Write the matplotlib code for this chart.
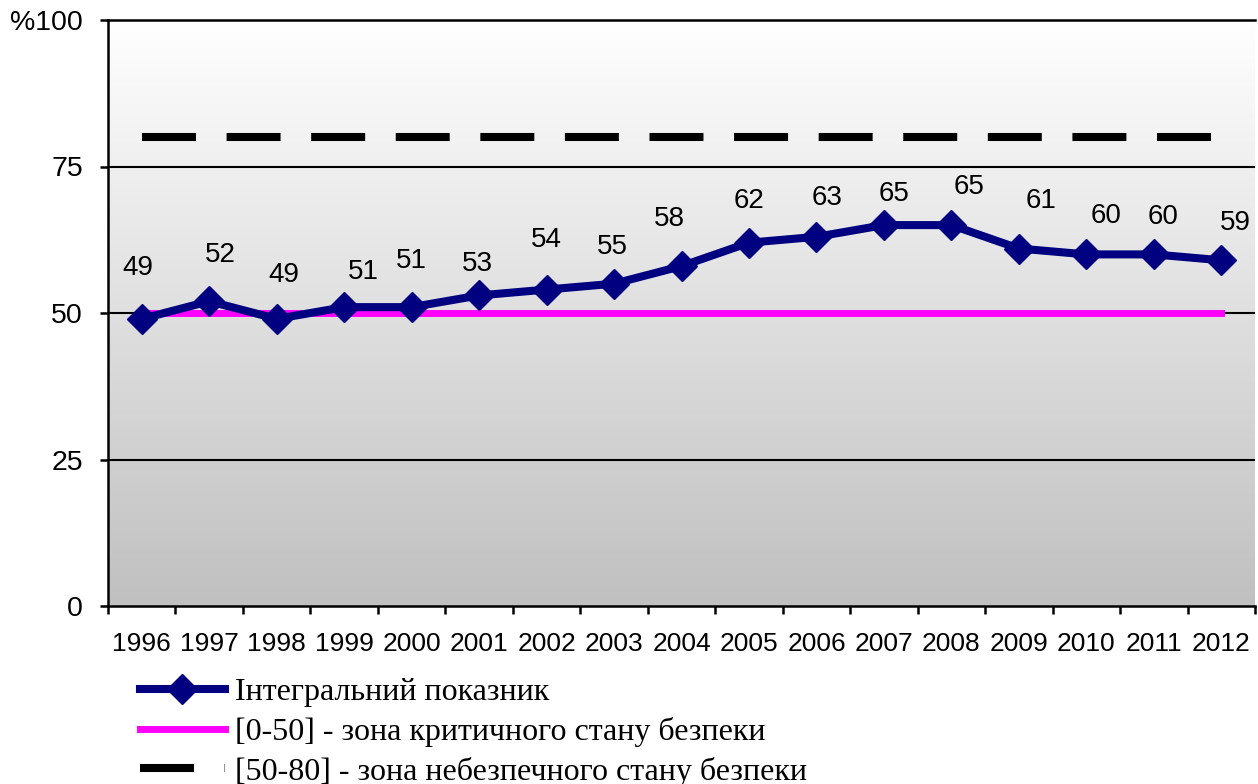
import numpy as np
import matplotlib
matplotlib.use("Agg")
import matplotlib.pyplot as plt
from matplotlib.colors import LinearSegmentedColormap

years = ["1996", "1997", "1998", "1999", "2000", "2001", "2002", "2003", "2004",
         "2005", "2006", "2007", "2008", "2009", "2010", "2011", "2012"]
integral = [49, 52, 49, 51, 51, 53, 54, 55, 58, 62, 63, 65, 65, 61, 60, 60, 59]
critical = [50] * 17
dangerous = [80] * 17
y_ticks = [0, 25, 50, 75, 100]
y_tick_labels = ["0", "25", "50", "75", "%100"]
legend_labels = ["Інтегральний показник",
                 "[0-50] - зона критичного стану безпеки",
                 "[50-80] - зона небезпечного стану безпеки"]

# label offsets (pixels) relative to point
label_dx = [-4, 11, 7, 19, 0, -2, 0, -2, -12, 0, 11, 10, 18, 22, 20, 9, 14]
label_dy = [-51, -46, -44, -35, -46, -31, -50, -37, -47, -42, -39, -31, -38, -48, -38, -37, -37]

W, H = 1258, 784
fig = plt.figure(figsize=(W / 100, H / 100), dpi=100)
ax = fig.add_axes([108 / W, 1 - 606 / H, (1255 - 108) / W, (606 - 20) / H])

x = np.arange(len(years))
ax.set_xlim(-0.5, len(years) - 0.5)

cmap = LinearSegmentedColormap.from_list("g", ["#ffffff", "#c0c0c0"])
grad = np.linspace(1, 0, 256).reshape(-1, 1)
ax.imshow(grad, extent=[-0.5, len(years) - 0.5, 0, 100], aspect="auto",
          cmap=cmap, zorder=0, origin="lower", vmin=0, vmax=1)
ax.set_ylim(0, 100)

for v in [25, 50, 75]:
    ax.axhline(v, color="black", lw=1.5, zorder=1)

l_dang, = ax.plot(x, dangerous, color="black", lw=5.8, zorder=2,
                  dashes=(6.7, 3.8), solid_capstyle="butt", dash_capstyle="butt")
l_crit, = ax.plot(x, critical, color="#ff00ff", lw=5, zorder=3)
l_int, = ax.plot(x, integral, color="#000080", lw=5.8, marker="D", ms=15,
                 zorder=4)

for xi, v, dx, dy in zip(x, integral, label_dx, label_dy):
    ax.annotate(str(v), (xi, v), xytext=(dx * 0.72, -dy * 0.72),
                textcoords="offset points", ha="center", va="center",
                fontsize=20, family="Liberation Sans", zorder=5)

ax.spines["right"].set_visible(False)
for s in ["left", "bottom", "top"]:
    ax.spines[s].set_linewidth(1.8)

ax.set_xticks(np.arange(-0.5, len(years), 1.0))
ax.set_xticklabels([])
ax.set_xticks(x, minor=True)
ax.set_xticklabels(years, minor=True, fontsize=19, family="Liberation Sans")
ax.tick_params(axis="x", which="major", direction="out", length=6, width=1.8)
ax.tick_params(axis="x", which="minor", length=0, pad=19)
ax.set_yticks(y_ticks)
ax.set_yticklabels(y_tick_labels, fontsize=20.5, family="Liberation Sans")
ax.tick_params(axis="y", direction="out", length=6, width=1.8, pad=12)

fig.legend([l_int, l_crit, l_dang], legend_labels, loc="upper left",
           bbox_to_anchor=(140 / W, 1 - 678 / H), frameon=False,
           prop={"family": "Liberation Serif", "size": 23},
           handlelength=2.66, handletextpad=0.3, labelspacing=0.3,
           borderaxespad=0, borderpad=0)

fig.savefig("out.png", dpi=100)
